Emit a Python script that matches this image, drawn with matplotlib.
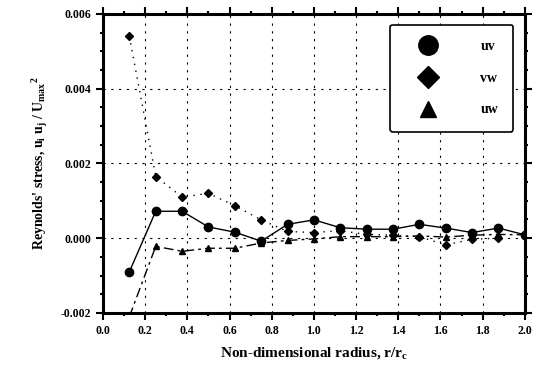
import matplotlib
matplotlib.use('Agg')
import matplotlib.pyplot as plt
from matplotlib.ticker import MultipleLocator, FormatStrFormatter
from matplotlib.lines import Line2D

plt.rcParams['font.family'] = 'Liberation Serif'
plt.rcParams['font.weight'] = 'bold'
plt.rcParams['mathtext.fontset'] = 'custom'
plt.rcParams['mathtext.rm'] = 'Liberation Serif:bold'
plt.rcParams['mathtext.it'] = 'Liberation Serif:bold'
plt.rcParams['mathtext.default'] = 'rm'

# radial stations r/rc
r = [0.125, 0.25, 0.375, 0.5, 0.625, 0.75, 0.875, 1.0,
     1.125, 1.25, 1.375, 1.5, 1.625, 1.75, 1.875, 2.0]

# Reynolds stresses (normalised)
uv = [-0.0009, 0.00072, 0.00072, 0.0003, 0.00016, -0.00008, 0.00037, 0.00049,
      0.00028, 0.00024, 0.00024, 0.00037, 0.00027, 0.00015, 0.00027, 0.00009]
vw = [0.0054, 0.00165, 0.0011, 0.0012, 0.00087, 0.00049, 0.00018, 0.00015,
      0.0002, 0.0001, 0.00008, 0.00004, -0.00018, -0.00003, 0.0]
uw = [-0.0021, -0.00022, -0.00035, -0.00027, -0.00027, -0.00013, -0.00006, -0.00002,
      0.00004, 0.00004, 0.00004, 0.00006, 0.00003, 0.00008, 0.0001, 0.00009]

fig = plt.figure(figsize=(5.45, 3.77), dpi=100)
ax = fig.add_axes([0.189, 0.170, 0.774, 0.793])

ax.plot(r, uv, color='black', lw=1.0, marker='o', ms=6, zorder=3)
ax.plot(r[:len(vw)], vw, color='black', lw=1.0, ls=(0, (1, 4)), marker='D', ms=4.5, zorder=3)
ax.plot(r, uw, color='black', lw=1.0, ls=(0, (7, 3, 2, 3)), marker='^', ms=5,
        markevery=list(range(1, len(uw))), zorder=3)

ax.set_xlim(0.0, 2.0)
ax.set_ylim(-0.002, 0.006)
ax.xaxis.set_major_locator(MultipleLocator(0.2))
ax.xaxis.set_minor_locator(MultipleLocator(0.1))
ax.yaxis.set_major_locator(MultipleLocator(0.002))
ax.yaxis.set_minor_locator(MultipleLocator(0.0005))
ax.xaxis.set_major_formatter(FormatStrFormatter('%.1f'))
ax.yaxis.set_major_formatter(FormatStrFormatter('%.3f'))

ax.grid(True, which='major', color='black', ls=(0, (2, 5)), lw=0.8)
ax.tick_params(which='both', direction='out', top=True, right=True, width=1.5)
ax.tick_params(which='major', length=5, labelsize=8.5)
ax.tick_params(which='minor', length=2.5)
for s in ax.spines.values():
    s.set_linewidth(2.2)
for lab in ax.get_xticklabels() + ax.get_yticklabels():
    lab.set_fontweight('bold')

ax.set_xlabel(r"Non-dimensional radius, r/r$_c$", fontsize=11, fontweight='bold', labelpad=6)
ax.set_ylabel(r"Reynolds' stress, u$_i$ u$_j$ / U$_{max}$$^2$", fontsize=10, fontweight='bold', labelpad=8)

handles = [Line2D([], [], ls='none', marker='o', ms=14, color='black'),
           Line2D([], [], ls='none', marker='D', ms=11, color='black'),
           Line2D([], [], ls='none', marker='^', ms=12, color='black')]
leg = ax.legend(handles, ['uv', 'vw', 'uw'], loc='upper right',
                bbox_to_anchor=(0.983, 0.978), fancybox=True, framealpha=1,
                edgecolor='black', labelspacing=1.35, handletextpad=2.2,
                borderpad=1.1, borderaxespad=0.3, prop={'weight': 'bold', 'size': 10},
                handlelength=3.2)
leg.get_frame().set_linewidth(1.2)

fig.savefig('out.png', dpi=100)
